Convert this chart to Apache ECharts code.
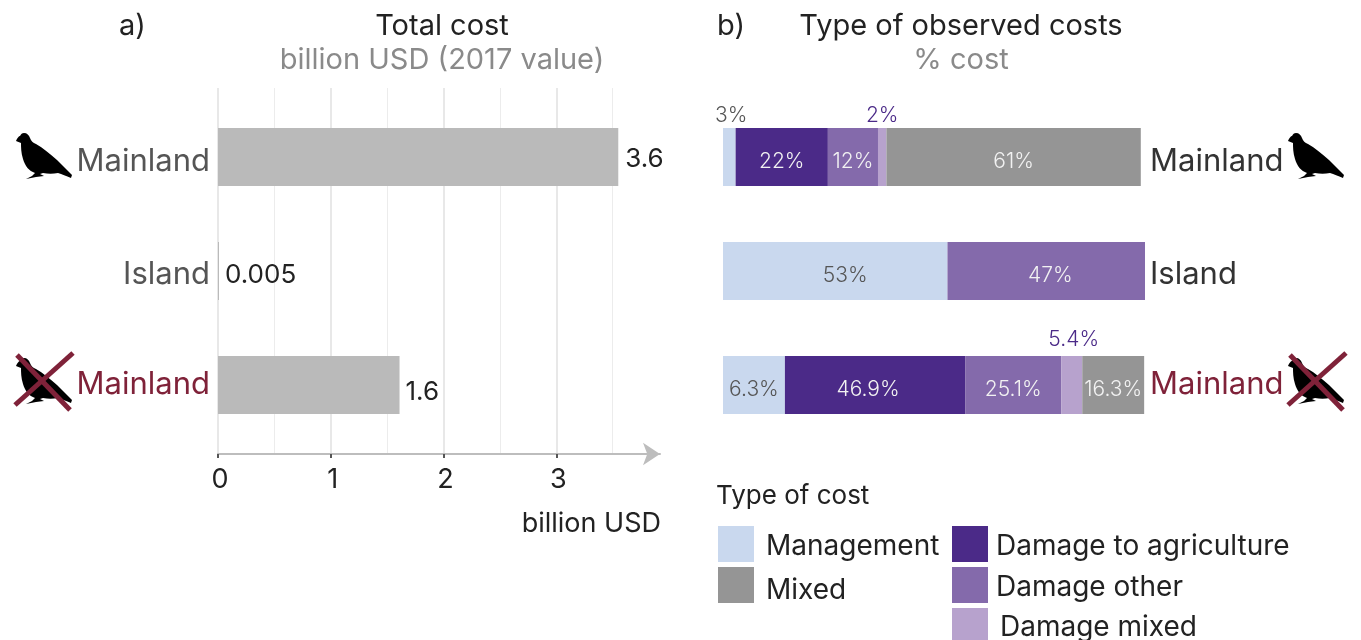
<!DOCTYPE html>
<html>
<head>
<meta charset="utf-8">
<title>Total cost and type of observed costs</title>
<script src="https://cdn.jsdelivr.net/npm/echarts@6/dist/echarts.min.js"></script>
<style>
html, body { margin: 0; padding: 0; background: #fff; }
#chart { width: 1361px; height: 640px; }
</style>
</head>
<body>
<div id="chart"></div>
<script>
var regions = ['Mainland', 'Island', 'Mainland'];

// panel a, billion USD (bar lengths and the printed numbers)
var totalCost = [3.55, 0.005, 1.61];
var totalCostLabels = ['3.6', '0.005', '1.6'];
var axisTicks = [0, 1, 2, 3];
var axisMinorTicks = [0.5, 1.5, 2.5, 3.5];

// panel b, share of the bar as drawn, the printed labels do not always agree with it
var management = [3.0, 53.3, 14.7];
var agriculture = [21.9, 0, 42.8];
var damageOther = [11.9, 46.9, 22.8];
var damageMixed = [2.0, 0, 5.0];
var mixed = [60.4, 0, 14.7];

var managementLabels = ['3%', '53%', '6.3%'];
var agricultureLabels = ['22%', '', '46.9%'];
var damageOtherLabels = ['12%', '47%', '25.1%'];
var damageMixedLabels = ['2%', '', '5.4%'];
var mixedLabels = ['61%', '', '16.3%'];

var FONT = 'Inter';
var CRIMSON = '#7f2239';
var xMaxA = 3.92;

var birdPath = 'M8 0 C11 0 13 2 14 5 C15 8 17 10 20 11 C27 15 34 21 41 27 C46 32 51 37 56 42 L55 45 ' +
  'C50 43 46 41 42 40 C37 41 32 41 27 40 L24 41 L28 43 L20 44 L10 46 L16 43 L19 40 ' +
  'C13 38 9 33 7 26 C5 20 5 14 5 10 L0 8 C1 5 3 3 4 3 C5 1 6 0 8 0 Z';

echarts.graphic.registerShape('bird', echarts.graphic.extendPath(birdPath, {}));

function bird(x, y) {
  return { type: 'bird', x: x, y: y, style: { fill: '#000' }, z: 5 };
}

function cross(x, y) {
  return [
    { type: 'line', x: x, y: y, shape: { x1: 2, y1: 2, x2: 55, y2: 57 }, style: { stroke: CRIMSON, lineWidth: 5 }, z: 6 },
    { type: 'line', x: x, y: y, shape: { x1: 58, y1: 0, x2: 0, y2: 52 }, style: { stroke: CRIMSON, lineWidth: 5 }, z: 6 }
  ];
}

function head(text, x, y, color, align) {
  return {
    text: text, left: x, top: y, padding: 0, textAlign: align || 'center', textVerticalAlign: 'middle',
    textStyle: { color: color, fontFamily: FONT, fontSize: 29, fontWeight: 400 }
  };
}

// outside: colour of a label that sits above its bar, shift: nudge of a label
function stackItem(values, labels, textColor, outside, shift) {
  return values.map(function (v, i) {
    var above = outside && outside[i];
    var nudge = shift && shift[i];
    return {
      value: v,
      label: {
        show: labels[i] !== '',
        formatter: labels[i],
        position: above ? 'top' : 'inside',
        distance: 1,
        offset: nudge || (above ? [0, 0] : [0, 5]),
        color: above ? above : textColor,
        fontFamily: FONT,
        fontSize: 21,
        fontWeight: 300
      }
    };
  });
}

function stackSeries(name, values, labels, fill, textColor, outside, shift) {
  return {
    name: name,
    type: 'bar',
    stack: 'cost',
    xAxisIndex: 3,
    yAxisIndex: 2,
    barWidth: 58,
    itemStyle: { color: fill },
    data: stackItem(values, labels, textColor, outside, shift)
  };
}

// region names: the rows sit a little lower than the bar centres, each by its own amount
function regionLabel(base, margin) {
  var drop = [10, 7, 0];
  var rich = {};
  drop.forEach(function (d, i) {
    rich['r' + i] = {
      color: i === 2 ? CRIMSON : base,
      fontFamily: FONT,
      fontSize: 31,
      padding: [d, 0, 0, 0]
    };
  });
  return {
    margin: margin,
    rich: rich,
    formatter: function (value, index) {
      return '{r' + index + '|' + value + '}';
    }
  };
}

// legend names, same idea
var legendPad = {
  'Management': [6, 0, 0, 0],
  'Mixed': [12, 0, 0, 0],
  'Damage to agriculture': [6, 0, 0, 0],
  'Damage other': [6, 0, 0, 0],
  'Damage mixed': [4, 0, 0, 4]
};
var legendRich = {};
Object.keys(legendPad).forEach(function (name, i) {
  legendRich['n' + i] = { color: '#222', fontFamily: FONT, fontSize: 28, padding: legendPad[name] };
});

function legendText(name) {
  return '{n' + Object.keys(legendPad).indexOf(name) + '|' + name + '}';
}

var chart = echarts.init(document.getElementById('chart'), null, { renderer: 'canvas' });

var costLabelDrop = [[1, 2], [0, 4], [0, 7]];

var option = {
  animation: false,
  backgroundColor: '#fff',
  title: [
    head('a)', 119, 26, '#222', 'left'),
    head('Total cost', 442, 26, '#222'),
    head('billion USD (2017 value)', 442, 60, '#8a8a8a'),
    head('b)', 717, 26, '#222', 'left'),
    head('Type of observed costs', 961, 26, '#222'),
    head('% cost', 961, 60, '#8a8a8a'),
    {
      text: 'billion USD', left: 661, top: 524, padding: 0, textAlign: 'right', textVerticalAlign: 'middle',
      textStyle: { color: '#222', fontFamily: FONT, fontSize: 27, fontWeight: 400 }
    },
    {
      text: 'Type of cost', left: 716, top: 496, padding: 0, textVerticalAlign: 'middle',
      textStyle: { color: '#222', fontFamily: FONT, fontSize: 26, fontWeight: 400 }
    }
  ],
  legend: [
    {
      data: ['Management', 'Mixed'],
      orient: 'vertical', left: 718, top: 526, height: 90, padding: 0, itemWidth: 36, itemHeight: 36, itemGap: 5,
      icon: 'rect', selectedMode: false, formatter: legendText,
      textStyle: { padding: [0, 0, 0, 7], rich: legendRich }
    },
    {
      data: ['Damage to agriculture', 'Damage other', 'Damage mixed'],
      orient: 'vertical', left: 952, top: 526, height: 130, padding: 0, itemWidth: 36, itemHeight: 36, itemGap: 5,
      icon: 'rect', selectedMode: false, formatter: legendText,
      textStyle: { padding: [0, 0, 0, 3], rich: legendRich }
    }
  ],
  grid: [
    { left: 218, top: 88, width: 442, height: 366 },
    { left: 218, top: 100, width: 442, height: 342 },
    { left: 723, top: 100, width: 422, height: 342 }
  ],
  xAxis: [
    {
      // thin half-unit grid lines
      type: 'value', gridIndex: 0, position: 'bottom', min: 0, max: xMaxA,
      axisLine: { show: false },
      axisLabel: { show: false },
      axisTick: { show: false, customValues: axisMinorTicks },
      splitLine: { show: true, lineStyle: { color: '#ececec', width: 1 } }
    },
    {
      type: 'value', gridIndex: 0, position: 'bottom', min: 0, max: xMaxA,
      axisLine: {
        show: true, symbol: ['none', 'arrow'], symbolSize: [17, 17], symbolOffset: [0, 0],
        lineStyle: { color: '#bdbdbd', width: 2 }
      },
      axisTick: { show: true, length: 4, customValues: axisTicks, lineStyle: { color: '#555', width: 2 } },
      axisLabel: {
        show: true, customValues: axisTicks, margin: 12, color: '#222',
        fontFamily: FONT, fontSize: 27, padding: [0, 0, 0, 4]
      },
      splitLine: { show: true, lineStyle: { color: '#e8e8e8', width: 2 } }
    },
    { type: 'value', gridIndex: 1, min: 0, max: xMaxA, show: false },
    { type: 'value', gridIndex: 2, min: 0, max: 100.2, show: false }
  ],
  yAxis: [
    { type: 'value', gridIndex: 0, show: false },
    {
      type: 'category', gridIndex: 1, inverse: true, data: regions,
      axisLine: { show: false }, axisTick: { show: false },
      axisLabel: regionLabel('#555', 8)
    },
    {
      type: 'category', gridIndex: 2, inverse: true, position: 'right', data: regions,
      axisLine: { show: false }, axisTick: { show: false },
      axisLabel: regionLabel('#333', 5)
    }
  ],
  series: [
    {
      name: 'Total cost',
      type: 'bar',
      xAxisIndex: 2,
      yAxisIndex: 1,
      barWidth: 58,
      barMinHeight: 1,
      itemStyle: { color: '#bababa' },
      data: totalCost.map(function (v, i) {
        return {
          value: v,
          label: {
            show: true,
            position: 'right',
            distance: 6,
            offset: costLabelDrop[i],
            color: '#222',
            fontFamily: FONT,
            fontSize: 26,
            formatter: totalCostLabels[i]
          }
        };
      })
    },
    stackSeries('Management', management, managementLabels, '#c9d8ee', '#555', ['#555', null, null], [[2, -1], [10, 5], [0, 5]]),
    stackSeries('Damage to agriculture', agriculture, agricultureLabels, '#4b2a88', '#f2f2f2', null, [[0, 5], [0, 0], [-7, 5]]),
    stackSeries('Damage other', damageOther, damageOtherLabels, '#846aab', '#f2f2f2', null, [[0, 5], [4, 5], [0, 5]]),
    stackSeries('Damage mixed', damageMixed, damageMixedLabels, '#b7a2cd', '#f2f2f2', ['#4b2a88', null, '#4b2a88'], [[0, -1], [0, 0], [2, -5]]),
    stackSeries('Mixed', mixed, mixedLabels, '#959595', '#f2f2f2')
  ],
  graphic: [
    bird(16, 133),
    bird(16, 358),
    bird(1288, 133),
    bird(1288, 358)
  ].concat(cross(15, 353), cross(1288, 353))
};

chart.setOption(option);
window.addEventListener('resize', function () {
  chart.resize();
});
</script>
</body>
</html>
